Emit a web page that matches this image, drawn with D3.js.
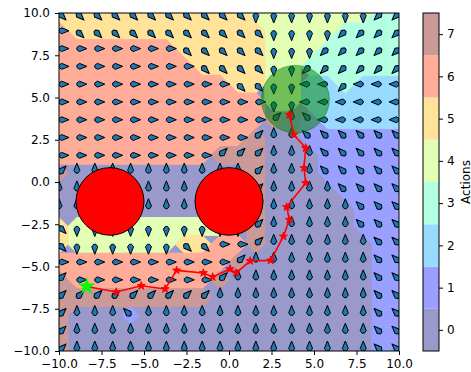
<!DOCTYPE html>
<html>
<head>
<meta charset="utf-8">
<script src="https://cdn.jsdelivr.net/npm/d3@7"></script>
<style>
  body { margin: 0; background: #fff; }
  svg { display: block; font-family: "DejaVu Sans", sans-serif; }
</style>
</head>
<body>
<div id="chart"></div>
<script>
// policy map: one digit (action 0-7) per quiver grid point, top row is y = 10
const actionGrid = [
  '55555555555444444433',
  '65555555555544443333',
  '66666665555544433333',
  '66666666555544333333',
  '66666666665544223222',
  '66666666666644222222',
  '66666666666670122222',
  '66666666666700111111',
  '66666666677700011111',
  '70000000000700011111',
  '00000000000700001111',
  '00000000000700000111',
  '54444444444700000111',
  '54444445566700000011',
  '66666666667000000011',
  '76666666670000000011',
  '77777777700000000011',
  '70001000000000000011',
  '70000000000000000011',
  '70000000000000000011'
];
// quiver grid, np.linspace(-10, 10, 20)
const gridValues = d3.range(20).map(i => -10 + i * 20 / 19);
const actions = [0, 1, 2, 3, 4, 5, 6, 7];

// agent trajectory
const pathX = [-8.37, -6.63, -5.16, -3.76, -3.08, -1.51, -0.96, 0.06, 0.41, 1.24, 2.45, 3.2, 3.55, 3.39, 4.51, 4.41, 4.51, 3.82, 3.55];
const pathY = [-6.18, -6.51, -6.14, -6.33, -5.23, -5.38, -5.62, -5.15, -5.38, -4.67, -4.64, -3.22, -2.23, -1.48, -0.06, 0.83, 2.01, 2.8, 3.98];

// obstacles and goal
const obstacleX = [-7, 0];
const obstacleY = [-1.15, -1.15];
const obstacleR = [2, 2];
const goalX = [3.9];
const goalY = [4.9];
const goalR = [2];

const axisTicks = [-10, -7.5, -5, -2.5, 0, 2.5, 5, 7.5, 10];

// jet colormap at alpha 0.4 over white
const palette = ['#9999cc', '#99a0ff', '#99dbff', '#b3ffe2', '#e2ffb3', '#ffe399', '#ffad99', '#cc9999'];

const width = 471, height = 372;
const plot = { left: 59, right: 399, top: 13, bottom: 351 };
const bar = { left: 423, right: 439 };

const x = d3.scaleLinear().domain([-10, 10]).range([plot.left, plot.right]);
const y = d3.scaleLinear().domain([-10, 10]).range([plot.bottom, plot.top]);
const yBar = d3.scaleLinear().domain([-0.5, 7.5]).range([plot.bottom, plot.top]);
const fmt = d3.format('.1f');

const svg = d3.select('#chart').append('svg')
  .attr('width', width)
  .attr('height', height);

svg.append('defs').append('clipPath').attr('id', 'plot-clip')
  .append('rect')
  .attr('x', plot.left).attr('y', plot.top)
  .attr('width', plot.right - plot.left)
  .attr('height', plot.bottom - plot.top);

const g = svg.append('g').attr('clip-path', 'url(#plot-clip)');

// background: one filled contour per action
const n = gridValues.length;
const step = gridValues[1] - gridValues[0];
const flat = actionGrid.join('').split('').map(Number);
const toPixel = d3.geoTransform({
  point(cx, cy) {
    this.stream.point(x(gridValues[0] + (cx - 0.5) * step), y(gridValues[n - 1] - (cy - 0.5) * step));
  }
});
const contourPath = d3.geoPath(toPixel);

g.append('rect')
  .attr('x', plot.left).attr('y', plot.top)
  .attr('width', plot.right - plot.left)
  .attr('height', plot.bottom - plot.top)
  .attr('fill', palette[0]);

actions.forEach(a => {
  const field = flat.map(v => v === a ? 1 : 0);
  const shape = d3.contours().size([n, n]).thresholds([0.5])(field)[0];
  g.append('path')
    .attr('d', contourPath(shape))
    .attr('fill', palette[a])
    .attr('stroke', palette[a])
    .attr('stroke-width', 1);
});

// quiver arrows, pivot at tail, action a points 90 + 45a degrees
const arrowData = [];
actionGrid.forEach((row, j) => {
  row.split('').forEach((c, i) => {
    arrowData.push({ gx: gridValues[i], gy: gridValues[n - 1 - j], action: +c });
  });
});

g.append('g').selectAll('path')
  .data(arrowData)
  .join('path')
  .attr('d', 'M0,-1.1L2.6,-3L10,0L2.6,3L0,1.1Z')
  .attr('transform', d => `translate(${x(d.gx)},${y(d.gy)}) rotate(${-(90 + 45 * d.action)})`)
  .attr('fill', '#1f77b4')
  .attr('stroke', '#000')
  .attr('stroke-width', 1)
  .attr('stroke-linejoin', 'round');

// obstacles
g.selectAll('.obstacle')
  .data(obstacleX)
  .join('ellipse')
  .attr('class', 'obstacle')
  .attr('cx', (d, i) => x(d))
  .attr('cy', (d, i) => y(obstacleY[i]))
  .attr('rx', (d, i) => x(obstacleR[i]) - x(0))
  .attr('ry', (d, i) => y(0) - y(obstacleR[i]))
  .attr('fill', 'red')
  .attr('stroke', '#000')
  .attr('stroke-width', 1);

// goal
g.selectAll('.goal')
  .data(goalX)
  .join('ellipse')
  .attr('class', 'goal')
  .attr('cx', (d, i) => x(d))
  .attr('cy', (d, i) => y(goalY[i]))
  .attr('rx', (d, i) => x(goalR[i]) - x(0))
  .attr('ry', (d, i) => y(0) - y(goalR[i]))
  .attr('fill', 'green')
  .attr('fill-opacity', 0.5)
  .attr('stroke', 'green')
  .attr('stroke-opacity', 0.5)
  .attr('stroke-width', 1);

// trajectory
const trajectory = pathX.map((d, i) => [d, pathY[i]]);
g.append('path')
  .datum(trajectory)
  .attr('d', d3.line().x(d => x(d[0])).y(d => y(d[1])))
  .attr('fill', 'none')
  .attr('stroke', 'red')
  .attr('stroke-width', 1.6);

g.selectAll('.step')
  .data(trajectory)
  .join('path')
  .attr('class', 'step')
  .attr('d', d3.symbol(d3.symbolStar).size(20))
  .attr('transform', d => `translate(${x(d[0])},${y(d[1])})`)
  .attr('fill', 'red')
  .attr('stroke', 'red')
  .attr('stroke-width', 1);

g.append('path')
  .attr('d', d3.symbol(d3.symbolStar).size(100))
  .attr('transform', `translate(${x(pathX[0])},${y(pathY[0])})`)
  .attr('fill', '#00ff00');

// frame and axes
svg.append('rect')
  .attr('x', plot.left).attr('y', plot.top)
  .attr('width', plot.right - plot.left)
  .attr('height', plot.bottom - plot.top)
  .attr('fill', 'none')
  .attr('stroke', '#000')
  .attr('stroke-width', 1);

const xAxis = svg.append('g')
  .attr('transform', `translate(0,${plot.bottom})`)
  .call(d3.axisBottom(x).tickValues(axisTicks).tickFormat(fmt).tickSize(4).tickPadding(4));
const yAxis = svg.append('g')
  .attr('transform', `translate(${plot.left},0)`)
  .call(d3.axisLeft(y).tickValues(axisTicks).tickFormat(fmt).tickSize(4).tickPadding(5));

// colorbar
svg.append('g').selectAll('rect')
  .data(actions)
  .join('rect')
  .attr('x', bar.left)
  .attr('y', d => yBar(d + 0.5))
  .attr('width', bar.right - bar.left)
  .attr('height', d => yBar(d - 0.5) - yBar(d + 0.5))
  .attr('fill', d => palette[d]);

svg.append('rect')
  .attr('x', bar.left).attr('y', plot.top)
  .attr('width', bar.right - bar.left)
  .attr('height', plot.bottom - plot.top)
  .attr('fill', 'none')
  .attr('stroke', '#000')
  .attr('stroke-width', 1);

const barAxis = svg.append('g')
  .attr('transform', `translate(${bar.right},0)`)
  .call(d3.axisRight(yBar).tickValues(actions).tickSize(4).tickPadding(4));

[xAxis, yAxis, barAxis].forEach(ax => {
  ax.select('.domain').remove();
  ax.attr('font-size', 12).attr('font-family', '"DejaVu Sans", sans-serif');
  ax.selectAll('text').attr('fill', '#000');
});

svg.append('text')
  .attr('transform', `translate(${width - 1.5},${(plot.top + plot.bottom) / 2}) rotate(-90)`)
  .attr('text-anchor', 'middle')
  .attr('font-size', 12)
  .attr('fill', '#000')
  .text('Actions');
</script>
</body>
</html>
